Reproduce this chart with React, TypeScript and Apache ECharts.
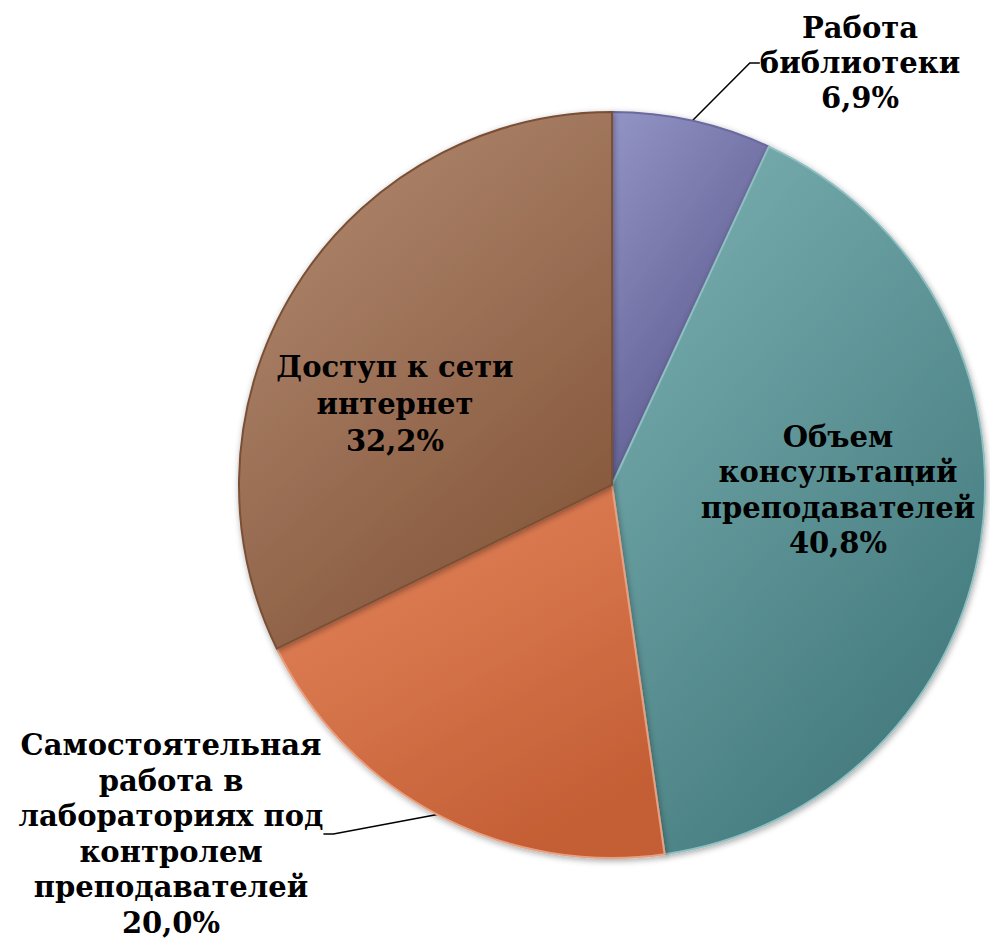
import React, { useEffect, useRef } from "react";
import * as echarts from "echarts";

const categories = [
  "Работа\nбиблиотеки",
  "Объем\nконсультаций\nпреподавателей",
  "Самостоятельная\nработа в\nлабораториях под\nконтролем\nпреподавателей",
  "Доступ к сети\nинтернет",
];
const values = [6.9, 40.8, 20.0, 32.2];
const gradTop = ["#9394c6", "#7db2b4", "#e6875f", "#b48c74"];
const gradBottom = ["#57558a", "#437a7d", "#c45f35", "#86583c"];
const borders = ["#6a69a0", "#8fbfc1", "#e9a080", "#7a5035"];
const labelPos = [
  { x: 860, y: 63 },
  { x: 838, y: 490 },
  { x: 171, y: 834 },
  { x: 395, y: 404 },
];
const labelLH = [35, 35.5, 35.6, 37];
const outside = [true, false, true, false];

export default function App() {
  const ref = useRef<HTMLDivElement>(null);
  useEffect(() => {
    document.body.style.margin = "0";
    const chart = echarts.init(ref.current!, null, { renderer: "svg" });
    const data = values.map((v, i) => ({
      value: v,
      name: categories[i],
      itemStyle: {
        color: new echarts.graphic.LinearGradient(0, 0, 0.6, 1, [
          { offset: 0, color: gradTop[i] },
          { offset: 1, color: gradBottom[i] },
        ]),
        borderColor: borders[i],
      },
      label: {
        position: outside[i] ? "outside" : "inside",
        lineHeight: labelLH[i],
      },
      labelLine: { show: outside[i] },
    }));
    chart.setOption({
      animation: false,
      backgroundColor: "#ffffff",
      series: [
        {
          type: "pie",
          center: [612, 485],
          radius: [0, 373],
          startAngle: 90,
          clockwise: true,
          data,
          itemStyle: {
            borderWidth: 2,
            shadowBlur: 6,
            shadowColor: "rgba(0,0,0,0.35)",
            shadowOffsetX: 1,
            shadowOffsetY: 2,
          },
          label: {
            show: true,
            formatter: (p: any) =>
              p.name + "\n" + Number(p.value).toFixed(1).replace(".", ",") + "%",
            fontFamily: "DejaVu Serif",
            fontWeight: "bold",
            fontSize: 29,
            color: "#000000",
            align: "center",
          },
          labelLine: {
            show: true,
            length: 30,
            length2: 10,
            lineStyle: { color: "#000000", width: 1.5 },
          },
          labelLayout: (params: any) => ({
            x: labelPos[params.dataIndex].x,
            y: labelPos[params.dataIndex].y,
            align: "center",
            verticalAlign: "middle",
          }),
        },
      ],
    });
    return () => chart.dispose();
  }, []);
  return <div ref={ref} style={{ width: 990, height: 939 }} />;
}
